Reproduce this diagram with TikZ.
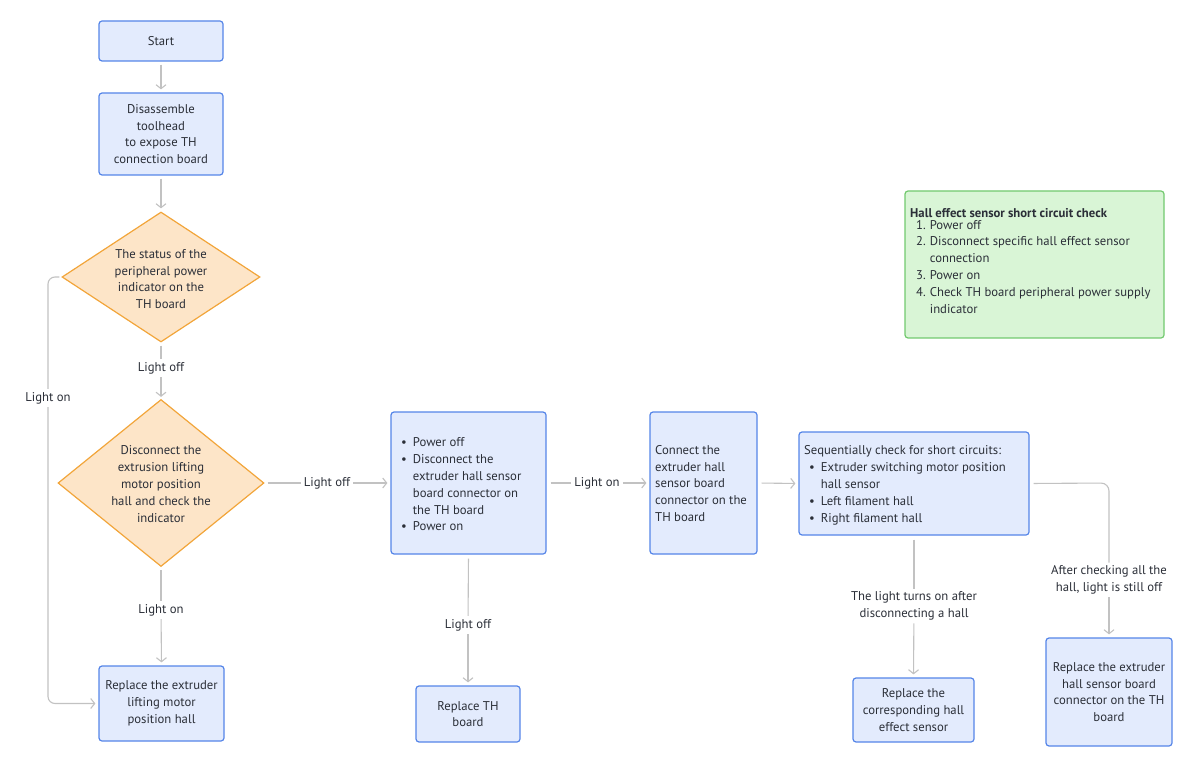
\documentclass[tikz,border=0pt]{standalone}
\usepackage{fontspec}
\setmainfont{PT Sans}
\usetikzlibrary{shapes.geometric,arrows.meta}
\definecolor{boxfill}{HTML}{E3EBFD}
\definecolor{boxline}{HTML}{5585E8}
\definecolor{diafill}{HTML}{FDE5C8}
\definecolor{dialine}{HTML}{F2A53A}
\definecolor{notefill}{HTML}{D9F5D6}
\definecolor{noteline}{HTML}{72C96E}
\definecolor{arrcol}{HTML}{C2C2C2}
\definecolor{txt}{HTML}{2B2F38}
\begin{document}
\begin{tikzpicture}[x=1pt,y=-1pt,
  every node/.style={font=\fontsize{12.7}{16.8}\selectfont, text=txt},
  bx/.style={draw=boxline, fill=boxfill, line width=1.2pt, rounded corners=3pt, align=center, inner sep=0pt},
  dia/.style={diamond, draw=dialine, fill=diafill, line width=1.2pt, inner sep=0pt},
  note/.style={draw=noteline, fill=notefill, line width=1.2pt, rounded corners=3pt, inner sep=0pt},
  lbl/.style={fill=white, inner sep=3pt, align=center},
  arr/.style={draw=arrcol, line width=1.1pt, -{Straight Barb[length=4pt,width=10pt]}},
  ln/.style={draw=arrcol, line width=1.1pt}
]
\useasboundingbox (0,0) rectangle (1200,767);
% boxes
\node[bx, minimum width=124pt, minimum height=40pt] (start) at (161,41) {Start};
\node[bx, minimum width=124pt, minimum height=82pt] (dis) at (161,134) {Disassemble\\toolhead\\to expose TH\\connection board};
\node[dia, minimum width=198pt, minimum height=130pt] (d1) at (161,277) {};
\node[align=center] (d1t) at (161,279) {The status of the\\peripheral power\\indicator on the\\TH board};
\node[dia, minimum width=206pt, minimum height=167pt] (d2) at (161,483) {};
\node[align=center] (d2t) at (161,484) {Disconnect the\\extrusion lifting\\motor position\\hall and check the\\indicator};
\node[bx, minimum width=125pt, minimum height=75pt] (r1) at (161.5,703.5) {Replace the extruder\\lifting motor\\position hall};
\node[bx, minimum width=155pt, minimum height=142pt] (b2) at (468.5,483) {};
\node[anchor=north west, inner sep=0pt, align=left] (b2t) at (401,435) {%
  \begin{tabular}{@{}l@{\hspace{6pt}}l@{}}
  \textbullet & Power off\\
  \textbullet & Disconnect the\\
   & extruder hall sensor\\
   & board connector on\\
   & the TH board\\
  \textbullet & Power on
  \end{tabular}};
\node[bx, minimum width=104pt, minimum height=56pt] (r2) at (468,714) {Replace TH\\board};
\node[bx, minimum width=107pt, minimum height=142pt] (b3) at (703.5,483) {};
\node[anchor=north west, inner sep=0pt, align=left] (b3t) at (655,445) {Connect the\\extruder hall\\sensor board\\connector on the\\TH board};
\node[bx, minimum width=230pt, minimum height=103pt] (b4) at (914,483.5) {};
\node[anchor=north west, inner sep=0pt, align=left] (b4t) at (804,443) {%
  \begin{tabular}{@{}l@{}}Sequentially check for short circuits:\end{tabular}\\[-1pt]
  \hspace{5pt}\begin{tabular}{@{}l@{\hspace{6pt}}l@{}}
  \textbullet & Extruder switching motor position\\
   & hall sensor\\
  \textbullet & Left filament hall\\
  \textbullet & Right filament hall
  \end{tabular}};
\node[bx, minimum width=121pt, minimum height=64pt] (r3) at (913.5,710) {Replace the\\corresponding hall\\effect sensor};
\node[bx, minimum width=126pt, minimum height=108pt] (r4) at (1109,692) {Replace the extruder\\hall sensor board\\connector on the TH\\board};
\node[note, minimum width=259pt, minimum height=147pt] (nt) at (1034.5,264.5) {};
\node[anchor=north west, inner sep=0pt, align=left] (ntt) at (910,208) {%
  \textbf{Hall effect sensor short circuit check}\\[-1pt]
  \hspace{6pt}\begin{tabular}{@{}r@{\hspace{4pt}}l@{}}
  1. & Power off\\
  2. & Disconnect specific hall effect sensor\\
     & connection\\
  3. & Power on\\
  4. & Check TH board peripheral power supply\\
     & indicator
  \end{tabular}};
% labels
\node[lbl] (l1) at (161,368) {Light off};
\node[lbl] (l2) at (48,398) {Light on};
\node[lbl] (l3) at (161,610) {Light on};
\node[lbl] (l4) at (327,483) {Light off};
\node[lbl] (l5) at (468,625) {Light off};
\node[lbl] (l6) at (597,483) {Light on};
\node[lbl] (l7) at (914,606) {The light turns on after\\disconnecting a hall};
\node[lbl] (l8) at (1109,580) {After checking all the\\hall, light is still off};
\coordinate (lx) at (48,277);
\coordinate (rx) at (1109,483);
% connectors
\draw[arr, shorten <=3pt, shorten >=3pt] (start) -- (dis);
\draw[arr, shorten <=3pt, shorten >=3pt] (dis) -- (d1);
\draw[ln, shorten <=3pt] (d1.south) -- (l1);
\draw[arr, shorten >=2pt] (l1) -- (d2.north);
\draw[ln, rounded corners=7pt, shorten <=2pt] (d1.west) -- (lx) -- (l2);
\draw[arr, rounded corners=7pt, shorten >=3pt] (l2) |- (r1.west);
\draw[ln, shorten <=3pt] (d2.south) -- (l3);
\draw[arr, shorten >=3pt] (l3) -- (r1.north);
\draw[ln, shorten <=3pt] (d2.east) -- (l4);
\draw[arr, shorten >=3pt] (l4) -- (b2.west);
\draw[ln, shorten <=4pt] (b2.south) -- (l5);
\draw[arr, shorten >=3pt] (l5) -- (r2.north);
\draw[ln, shorten <=4pt] (b2.east) -- (l6);
\draw[arr, shorten >=3pt] (l6) -- (b3.west);
\draw[arr, shorten <=4pt, shorten >=3pt] (b3.east) -- (b4.west);
\draw[ln, shorten <=4pt] (b4.south) -- (l7);
\draw[arr, shorten >=3pt] (l7) -- (r3.north);
\draw[ln, rounded corners=8pt, shorten <=4pt] (b4.east) -- (rx) -- (l8);
\draw[arr, shorten >=3pt] (l8) -- (r4.north);
\end{tikzpicture}
\end{document}
